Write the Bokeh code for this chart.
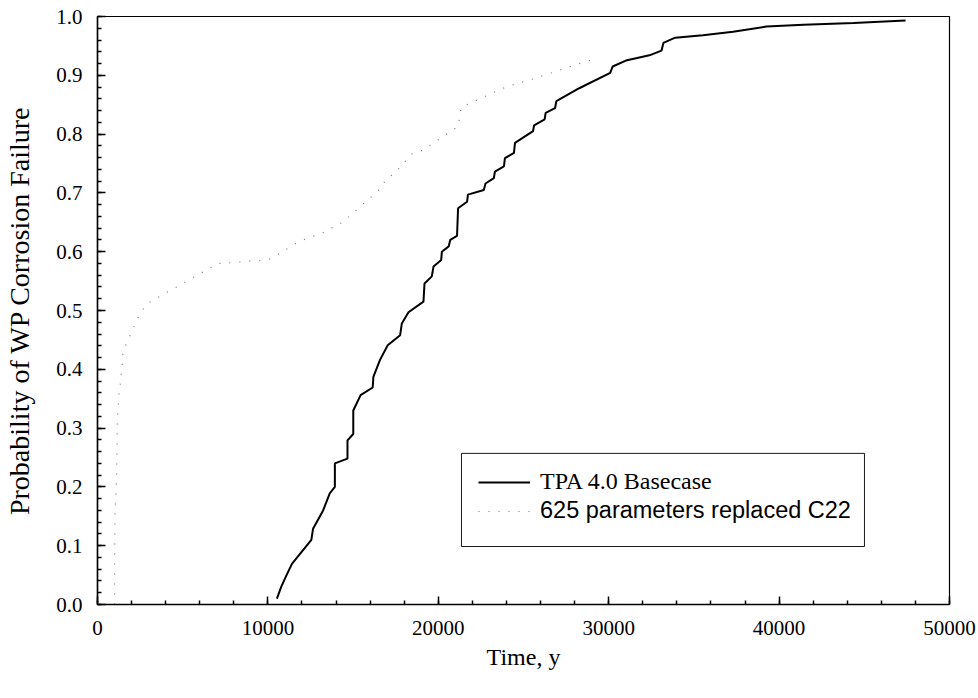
from bokeh.plotting import figure
from bokeh.models import (Range1d, SingleIntervalTicker, NumeralTickFormatter,
                          Legend, LegendItem, BoxAnnotation)
from bokeh.embed import file_html
from bokeh.resources import INLINE

# ---- data ----
base_time = [10530, 10780, 11080, 11410, 12550, 12650, 13240, 13630, 13930, 13930,
             14670, 14670, 15010, 15010, 15440, 16150, 16190, 16580, 17030, 17760,
             17860, 18250, 19130, 19190, 19620, 19720, 20170, 20210, 20610, 20700,
             21100, 21160, 21690, 21740, 22670, 22770, 23260, 23320, 23850, 23910,
             24440, 24500, 25560, 25620, 26240, 26300, 26850, 26930, 28270, 30090,
             30230, 31010, 32390, 33100, 33210, 33900, 35530, 37300, 39260, 41430,
             44370, 47420]
base_prob = [0.010, 0.030, 0.049, 0.069, 0.110, 0.129, 0.160, 0.189, 0.200, 0.240,
             0.248, 0.279, 0.290, 0.330, 0.356, 0.369, 0.387, 0.416, 0.441, 0.458,
             0.478, 0.497, 0.515, 0.546, 0.558, 0.575, 0.586, 0.600, 0.609, 0.620,
             0.627, 0.674, 0.685, 0.697, 0.705, 0.716, 0.725, 0.736, 0.745, 0.759,
             0.768, 0.785, 0.805, 0.815, 0.825, 0.836, 0.844, 0.856, 0.878, 0.904,
             0.915, 0.925, 0.934, 0.942, 0.955, 0.964, 0.968, 0.974, 0.983, 0.986,
             0.989, 0.993]

c22_time = [1000, 1020, 1120, 1160, 1260, 1340, 1460, 1490, 2490, 2930,
            7070, 7700, 8940, 9530, 10160, 11880, 12510, 13140, 14380, 16600,
            16930, 17520, 18440, 19050, 21160, 21350, 23810, 24400, 24990, 25570,
            29250]
c22_prob = [0.000, 0.150, 0.218, 0.307, 0.359, 0.376, 0.412, 0.430, 0.495, 0.512,
            0.580, 0.581, 0.584, 0.585, 0.588, 0.618, 0.625, 0.631, 0.650, 0.707,
            0.723, 0.736, 0.766, 0.772, 0.813, 0.846, 0.878, 0.884, 0.889, 0.894,
            0.929]

label_base = "TPA 4.0 Basecase"
label_c22 = "625 parameters replaced C22"
x_title = "Time, y"
y_title = "Probability of WP Corrosion Failure"

SERIF = "Liberation Serif"
SANS = "Liberation Sans"

p = figure(width=978, height=698, output_backend="svg", toolbar_location=None,
           x_range=Range1d(0, 50000), y_range=Range1d(0, 1.0),
           min_border_left=97, min_border_right=29, min_border_top=16,
           min_border_bottom=94)
p.background_fill_color = "white"
p.border_fill_color = "white"
p.outline_line_color = "black"
p.outline_line_width = 1.2
p.xgrid.visible = False
p.ygrid.visible = False

p.xaxis.ticker = SingleIntervalTicker(interval=10000, num_minor_ticks=5)
p.yaxis.ticker = SingleIntervalTicker(interval=0.1, num_minor_ticks=5)
p.xaxis.formatter = NumeralTickFormatter(format="0")
p.yaxis.formatter = NumeralTickFormatter(format="0.0")

for ax in (p.xaxis[0], p.yaxis[0]):
    ax.axis_line_color = "black"
    ax.axis_line_width = 1.5
    ax.major_tick_in = 8
    ax.major_tick_out = 0
    ax.minor_tick_in = 4
    ax.minor_tick_out = 0
    ax.major_tick_line_color = "black"
    ax.minor_tick_line_color = "black"
    ax.major_tick_line_width = 1.5
    ax.minor_tick_line_width = 1.5
    ax.major_label_text_font = SERIF
    ax.major_label_text_font_size = "21px"
    ax.major_label_text_color = "black"
    ax.axis_label_text_font = SERIF
    ax.axis_label_text_font_style = "normal"
    ax.axis_label_text_color = "black"

p.xaxis.axis_label = x_title
p.yaxis.axis_label = y_title
p.xaxis.axis_label_text_font_size = "24px"
p.yaxis.axis_label_text_font_size = "28px"
p.xaxis.major_label_standoff = 16
p.yaxis.major_label_standoff = 15
p.xaxis.axis_label_standoff = 6
p.yaxis.axis_label_standoff = 18

r_c22 = p.line(c22_time, c22_prob, line_color="#777777", line_width=1.2,
               line_dash="1 9")
r_base = p.line(base_time, base_prob, line_color="black", line_width=2)

# legend frame
box = BoxAnnotation(left=21360, right=45010, bottom=0.0986, top=0.257,
                    fill_alpha=0, line_color="black", line_width=1,
                    line_alpha=0.9)
p.add_layout(box)

def make_legend(item_label, rend, font, size, loc):
    lg = Legend(items=[LegendItem(label=item_label, renderers=[rend])],
                location=loc, margin=0, padding=0, spacing=0,
                glyph_width=52, glyph_height=24, label_height=24,
                label_standoff=10, label_text_font=font,
                label_text_font_size=size, label_text_color="black",
                border_line_color=None, background_fill_alpha=0)
    return lg

p.add_layout(make_legend(label_base, r_base, SERIF, "24px", (381, 109)))
p.add_layout(make_legend(label_c22, r_c22, SANS, "23.5px", (381, 80)))

open("out.html", "w").write(file_html(p, INLINE))
